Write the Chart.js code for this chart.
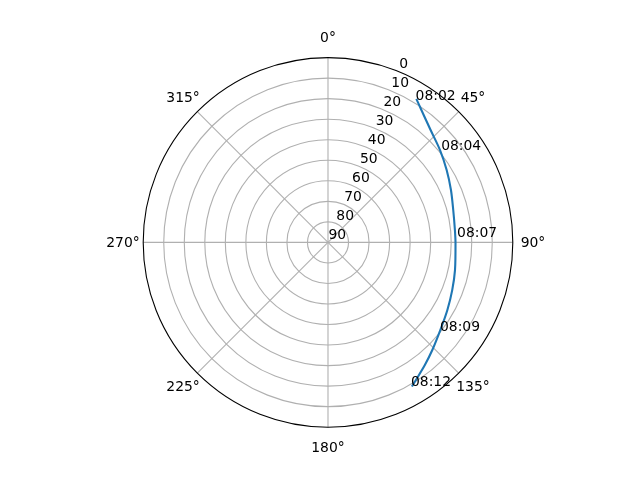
<!DOCTYPE html>
<html>
<head>
<meta charset="utf-8">
<script src="https://cdn.jsdelivr.net/npm/chart.js@4/dist/chart.umd.min.js"></script>
<style>
html,body{margin:0;padding:0;background:#fff;}
canvas{display:block;}
</style>
</head>
<body>
<canvas id="c" width="640" height="480"></canvas>
<script>
// Satellite pass: azimuth (deg, clockwise from N) and elevation (deg)
const passAzimuth   = [31.6, 35.2, 42.4, 50.5, 58.6, 66.9, 75.5, 84.4, 90.3, 102.3, 111.0, 119.5, 128.0, 135.9, 141.7, 147.4, 149.8];
const passElevation = [ 7.9, 11.1, 15.9, 19.3, 22.3, 24.9, 27.0, 27.9, 27.9,  26.7,  25.2,  23.2,  20.6,  17.0,  13.9,  10.5,   8.8];

// Time annotations
const timeLabels    = ['08:02', '08:04', '08:07', '08:09', '08:12'];
const timeAzimuth   = [31.5, 50.8, 87.7, 128.2, 149.9];
const timeElevation = [ 8.4, 18.9, 27.1,  20.6,   9.4];

// Axis tick labels
const angleTicks = [0, 45, 90, 135, 180, 225, 270, 315];
const angleTickLabels = ['0°', '45°', '90°', '135°', '180°', '225°', '270°', '315°'];
const elevationTicks = [0, 10, 20, 30, 40, 50, 60, 70, 80, 90];
const elevationTickLabels = ['0', '10', '20', '30', '40', '50', '60', '70', '80', '90'];

const RMAX = 90;
function toXY(az, el) {
  const r = RMAX - el;
  const a = az * Math.PI / 180;
  return { x: r * Math.sin(a), y: r * Math.cos(a) };
}

const passPoints = passAzimuth.map((a, i) => toXY(a, passElevation[i]));

const FONT = '13.9px "DejaVu Sans"';

const polarGrid = {
  id: 'polarGrid',
  beforeDraw(chart) {
    const c = chart.ctx;
    c.save();
    c.fillStyle = '#ffffff';
    c.fillRect(0, 0, chart.width, chart.height);
    c.restore();
  },
  beforeDatasetsDraw(chart) {
    const xs = chart.scales.x, ys = chart.scales.y, c = chart.ctx;
    const cx = xs.getPixelForValue(0), cy = ys.getPixelForValue(0);
    const k = (xs.getPixelForValue(RMAX) - cx) / RMAX;
    c.save();
    c.strokeStyle = '#b0b0b0';
    c.lineWidth = 1.1;
    elevationTicks.forEach(el => {
      const r = (RMAX - el) * k;
      if (r <= 0 || el === 0) return;
      c.beginPath();
      c.arc(cx, cy, r, 0, Math.PI * 2);
      c.stroke();
    });
    angleTicks.forEach(a => {
      const p = toXY(a, 0);
      c.beginPath();
      c.moveTo(cx, cy);
      c.lineTo(xs.getPixelForValue(p.x), ys.getPixelForValue(p.y));
      c.stroke();
    });
    c.restore();
  },
  afterDatasetsDraw(chart) {
    const xs = chart.scales.x, ys = chart.scales.y, c = chart.ctx;
    const cx = xs.getPixelForValue(0), cy = ys.getPixelForValue(0);
    const k = (xs.getPixelForValue(RMAX) - cx) / RMAX;
    c.save();
    c.strokeStyle = '#000000';
    c.lineWidth = 1.1;
    c.beginPath();
    c.arc(cx, cy, RMAX * k, 0, Math.PI * 2);
    c.stroke();

    c.fillStyle = '#000000';
    c.font = FONT;
    c.textAlign = 'center';
    c.textBaseline = 'middle';
    const labR = RMAX * k * (205 / 184.8);
    angleTicks.forEach((a, i) => {
      const t = a * Math.PI / 180;
      c.fillText(angleTickLabels[i], cx + labR * Math.sin(t), cy - labR * Math.cos(t) + 0.5);
    });
    c.textAlign = 'left';
    c.textBaseline = 'alphabetic';
    elevationTicks.forEach((el, i) => {
      const p = toXY(22.5, el);
      c.fillText(elevationTickLabels[i], xs.getPixelForValue(p.x) + 0.5, ys.getPixelForValue(p.y) - 3.3);
    });
    timeLabels.forEach((t, i) => {
      const p = toXY(timeAzimuth[i], timeElevation[i]);
      c.fillText(t, xs.getPixelForValue(p.x), ys.getPixelForValue(p.y));
    });
    c.restore();
  }
};

new Chart(document.getElementById('c'), {
  type: 'scatter',
  data: {
    datasets: [{
      data: passPoints,
      showLine: true,
      borderColor: '#1f77b4',
      borderWidth: 2.1,
      pointRadius: 0,
      tension: 0.3,
      fill: false,
      clip: false
    }]
  },
  options: {
    responsive: false,
    animation: false,
    devicePixelRatio: 1,
    layout: { padding: { left: 143.2, right: 127.2, top: 57.6, bottom: 52.8 } },
    plugins: { legend: { display: false }, tooltip: { enabled: false } },
    scales: {
      x: { type: 'linear', min: -RMAX, max: RMAX, display: false },
      y: { type: 'linear', min: -RMAX, max: RMAX, display: false }
    }
  },
  plugins: [polarGrid]
});
</script>
</body>
</html>
